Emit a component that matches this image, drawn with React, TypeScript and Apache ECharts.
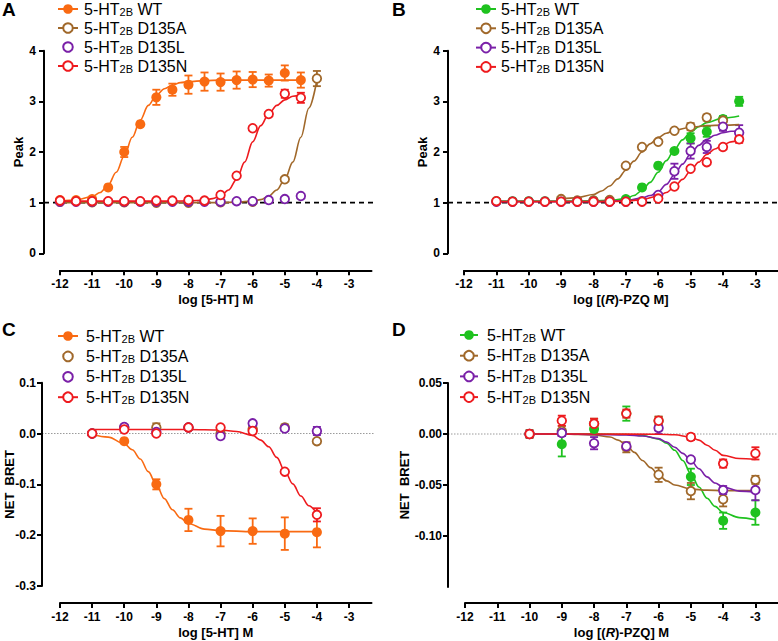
import React, { useEffect, useRef } from "react";
import * as echarts from "echarts";

const FONT = "'Liberation Sans', Arial, Helvetica, sans-serif";

const ORANGE = "#F96A12";
const GREEN = "#1FC21F";
const BROWN = "#A0682A";
const PURPLE = "#7A20A8";
const RED = "#EE1A1E";

const X_TICKS = [-12, -11, -10, -9, -8, -7, -6, -5, -4, -3];
const A_Y_TICKS = [0, 1, 2, 3, 4];
const C_Y_TICKS = [-0.3, -0.2, -0.1, 0, 0.1];
const D_Y_TICKS = [-0.1, -0.05, 0, 0.05];

// ---------- Panel A: Peak vs log [5-HT] ----------
const aX = [-12, -11.5, -11, -10.5, -10, -9.5, -9, -8.5, -8, -7.5, -7, -6.5, -6, -5.5, -5, -4.5];
const aWT = [1.05, 1.05, 1.07, 1.3, 2.0, 2.55, 3.08, 3.23, 3.33, 3.39, 3.38, 3.42, 3.43, 3.41, 3.56, 3.42];
const aWTErr = [0, 0, 0, 0, 0.1, 0, 0.15, 0.12, 0.18, 0.18, 0.17, 0.17, 0.15, 0.12, 0.15, 0.15];
const aAX = [-12, -11, -10, -9, -8, -7, -6, -5, -4];
const aA = [1.02, 1.01, 1.01, 1.0, 1.0, 1.01, 1.02, 1.46, 3.45];
const aAErr = [0, 0, 0, 0, 0, 0, 0, 0, 0.15];
const aL = [1.02, 1.02, 1.02, 1.02, 1.02, 1.02, 1.02, 1.02, 1.02, 1.02, 1.02, 1.03, 1.03, 1.05, 1.07, 1.13];
const aN = [1.04, 1.03, 1.03, 1.03, 1.03, 1.03, 1.04, 1.04, 1.05, 1.04, 1.15, 1.53, 2.47, 2.75, 3.15, 3.07];
const aNErr = [0, 0, 0, 0, 0, 0, 0, 0, 0, 0, 0, 0, 0, 0, 0.08, 0.1];
const aWTcX = [-12, -11.5, -11, -10.75, -10.5, -10.25, -10, -9.75, -9.5, -9.25, -9, -8.75, -8.5, -8.25, -8, -7.5, -7, -6, -5, -4.5];
const aWTcY = [1.03, 1.05, 1.12, 1.2, 1.35, 1.6, 1.92, 2.29, 2.63, 2.92, 3.12, 3.25, 3.32, 3.37, 3.39, 3.41, 3.42, 3.42, 3.42, 3.42];
const aAcX = [-12, -10, -8, -7, -6.5, -6, -5.75, -5.5, -5.25, -5, -4.75, -4.5, -4.25, -4];
const aAcY = [1.0, 1.0, 1.0, 1.0, 1.01, 1.03, 1.06, 1.13, 1.25, 1.46, 1.8, 2.29, 2.87, 3.42];
const aNcX = [-12, -11, -10, -9, -8.5, -8, -7.5, -7.25, -7, -6.75, -6.5, -6.25, -6, -5.75, -5.5, -5.25, -5, -4.75, -4.5];
const aNcY = [1.03, 1.03, 1.03, 1.03, 1.03, 1.035, 1.05, 1.08, 1.13, 1.25, 1.46, 1.8, 2.2, 2.52, 2.75, 2.92, 3.03, 3.1, 3.13];

// ---------- Panel B: Peak vs log [(R)-PZQ] ----------
const bX = [-11, -10.5, -10, -9.5, -9, -8.5, -8, -7.5, -7, -6.5, -6, -5.5, -5, -4.5, -4, -3.5];
const bWT = [1.03, 1.03, 1.03, 1.03, 1.04, 1.03, 1.04, 1.04, 1.07, 1.3, 1.73, 2.02, 2.27, 2.4, 2.65, 3.0];
const bWTErr = [0, 0, 0, 0, 0, 0, 0, 0, 0, 0, 0.03, 0, 0.1, 0.1, 0.06, 0.09];
const bAX = [-9, -8.5, -8, -7.5, -7, -6.5, -6, -5.5, -5, -4.5, -4];
const bA = [1.07, 1.04, 1.04, 1.05, 1.73, 2.1, 2.2, 2.42, 2.5, 2.68, 2.62];
const bAErr = [0, 0, 0, 0, 0, 0, 0, 0, 0.07, 0.06, 0.05];
const bL = [1.02, 1.02, 1.02, 1.02, 1.02, 1.02, 1.02, 1.02, 1.02, 1.03, 1.15, 1.62, 2.02, 2.1, 2.5, 2.38];
const bLErr = [0, 0, 0, 0, 0, 0, 0, 0, 0, 0, 0.03, 0.15, 0.15, 0.12, 0.08, 0.15];
const bN = [1.03, 1.02, 1.02, 1.02, 1.02, 1.02, 1.02, 1.02, 1.02, 1.02, 1.08, 1.32, 1.67, 1.8, 2.1, 2.25];
const bNErr = [0, 0, 0, 0, 0, 0, 0, 0, 0, 0, 0, 0, 0, 0, 0.02, 0.07];
const bWTcX = [-11, -10, -9, -8, -7.5, -7, -6.75, -6.5, -6.25, -6, -5.75, -5.5, -5.25, -5, -4.75, -4.5, -4, -3.5];
const bWTcY = [1.03, 1.03, 1.03, 1.035, 1.045, 1.08, 1.14, 1.24, 1.4, 1.6, 1.83, 2.05, 2.24, 2.39, 2.5, 2.58, 2.67, 2.71];
const bAcX = [-9, -8.5, -8, -7.75, -7.5, -7.25, -7, -6.75, -6.5, -6.25, -6, -5.75, -5.5, -5, -4.5, -4, -3.5];
const bAcY = [1.07, 1.1, 1.16, 1.23, 1.33, 1.47, 1.64, 1.82, 2.0, 2.16, 2.29, 2.37, 2.43, 2.49, 2.52, 2.53, 2.54];
const bLcX = [-11, -10, -9, -8, -7, -6.5, -6.25, -6, -5.75, -5.5, -5.25, -5, -4.75, -4.5, -4.25, -4, -3.75, -3.5];
const bLcY = [1.02, 1.02, 1.02, 1.02, 1.04, 1.09, 1.14, 1.22, 1.36, 1.55, 1.76, 1.96, 2.13, 2.25, 2.33, 2.38, 2.41, 2.42];
const bNcX = [-11, -10, -9, -8, -7, -6.5, -6, -5.75, -5.5, -5.25, -5, -4.75, -4.5, -4.25, -4, -3.75, -3.5];
const bNcY = [1.02, 1.02, 1.02, 1.02, 1.03, 1.06, 1.13, 1.2, 1.31, 1.46, 1.63, 1.8, 1.95, 2.06, 2.14, 2.2, 2.23];

// ---------- Panel C: NET BRET vs log [5-HT] ----------
const cX = [-11, -10, -9, -8, -7, -6, -5, -4];
const cWT = [0, -0.015, -0.1, -0.17, -0.192, -0.192, -0.197, -0.194];
const cWTErr = [0, 0.003, 0.01, 0.022, 0.03, 0.025, 0.032, 0.03];
const cA = [0.0, 0.012, 0.012, 0.012, 0.0, 0.009, 0.012, -0.015];
const cAErr = [0, 0.006, 0.008, 0.003, 0.003, 0.005, 0.006, 0.003];
const cL = [0.0, 0.013, 0.003, 0.012, -0.005, 0.02, 0.01, 0.005];
const cLErr = [0, 0.004, 0.003, 0, 0.004, 0.003, 0.005, 0.008];
const cN = [0.0, 0.008, 0.0, 0.012, 0.012, 0.005, -0.075, -0.16];
const cNErr = [0, 0, 0.003, 0.002, 0.002, 0.003, 0.003, 0.013];
const cWTcX = [-11, -10.5, -10, -9.75, -9.5, -9.25, -9, -8.75, -8.5, -8.25, -8, -7.5, -7, -6, -5, -4];
const cWTcY = [-0.002, -0.007, -0.02, -0.032, -0.05, -0.075, -0.101, -0.128, -0.15, -0.166, -0.177, -0.188, -0.191, -0.193, -0.193, -0.193];
const cNcX = [-11, -10, -9, -8, -7, -6.5, -6, -5.75, -5.5, -5.25, -5, -4.75, -4.5, -4.25, -4];
const cNcY = [0.008, 0.008, 0.008, 0.008, 0.007, 0.004, -0.004, -0.013, -0.026, -0.047, -0.074, -0.099, -0.123, -0.142, -0.158];

// ---------- Panel D: NET BRET vs log [(R)-PZQ] ----------
const dX = [-10, -9, -8, -7, -6, -5, -4, -3];
const dWT = [0, -0.01, 0.005, 0.02, 0.013, -0.042, -0.085, -0.077];
const dWTErr = [0.002, 0.012, 0.003, 0.007, 0.004, 0.008, 0.008, 0.012];
const dA = [0, 0.003, 0.01, -0.013, -0.04, -0.056, -0.064, -0.045];
const dAErr = [0.004, 0.005, 0.005, 0.005, 0.007, 0.008, 0.007, 0.004];
const dL = [0, 0.001, -0.009, -0.012, 0.006, -0.025, -0.055, -0.055];
const dLErr = [0.003, 0.003, 0.006, 0.003, 0.006, 0.002, 0.004, 0.01];
const dN = [0, 0.013, 0.01, 0.02, 0.013, -0.003, -0.029, -0.019];
const dNErr = [0.002, 0.005, 0.005, 0.004, 0.004, 0.003, 0.004, 0.006];
const dWTcX = [-10, -9, -8, -7, -6.5, -6, -5.75, -5.5, -5.25, -5, -4.75, -4.5, -4.25, -4, -3.5, -3];
const dWTcY = [0, 0, 0, -0.0005, -0.0015, -0.005, -0.009, -0.016, -0.026, -0.039, -0.052, -0.063, -0.071, -0.077, -0.082, -0.084];
const dAcX = [-10, -9, -8.5, -8, -7.5, -7.25, -7, -6.75, -6.5, -6.25, -6, -5.75, -5.5, -5, -4.5, -4, -3];
const dAcY = [0, 0, -0.0005, -0.001, -0.003, -0.006, -0.011, -0.018, -0.026, -0.033, -0.04, -0.046, -0.05, -0.054, -0.055, -0.0555, -0.0555];
const dLcX = [-10, -9, -8, -7, -6.5, -6, -5.75, -5.5, -5.25, -5, -4.75, -4.5, -4.25, -4, -3.5, -3];
const dLcY = [0, 0, -0.0005, -0.001, -0.002, -0.0045, -0.008, -0.013, -0.019, -0.026, -0.034, -0.042, -0.048, -0.052, -0.056, -0.057];
const dNcX = [-10, -8, -6, -5.5, -5, -4.75, -4.5, -4.25, -4, -3.5, -3];
const dNcY = [0, 0, -0.0003, -0.0008, -0.003, -0.006, -0.011, -0.016, -0.021, -0.024, -0.025];

const GROUP_LABEL: Record<string, string> = {
  WT: "{t|5-HT}{s|2B}{t| WT}",
  A: "{t|5-HT}{s|2B}{t| D135A}",
  L: "{t|5-HT}{s|2B}{t| D135L}",
  N: "{t|5-HT}{s|2B}{t| D135N}",
};

type Group = {
  key: string;
  color: string;
  filled: boolean;
  px: number[];
  py: number[];
  pe?: number[];
  cx?: number[];
  cy?: number[];
};

function buildPanel(p: string, gi: number, groups: Group[]) {
  const series: any[] = [];
  const legendNames: string[] = [];
  groups.forEach((g) => {
    const item = g.filled
      ? { color: g.color }
      : { color: "#fff", borderColor: g.color, borderWidth: 1.8 };
    if (g.cx && g.cy) {
      const cy = g.cy;
      series.push({
        type: "line",
        name: `${p}_${g.key}_c`,
        xAxisIndex: gi,
        yAxisIndex: gi,
        data: g.cx.map((x, i) => [x, cy[i]]),
        smooth: 0.35,
        smoothMonotone: "x",
        showSymbol: false,
        symbol: "circle",
        symbolSize: 9,
        itemStyle: item,
        lineStyle: { color: g.color, width: 1.6 },
        silent: true,
        clip: false,
      });
      legendNames.push(`${p}_${g.key}_c`);
    }
    if (g.pe) {
      const pe = g.pe;
      const errData = g.px
        .map((x, i) => [x, g.py[i] - pe[i], g.py[i] + pe[i], pe[i]])
        .filter((d) => d[3] > 0);
      const color = g.color;
      series.push({
        type: "custom",
        name: `${p}_${g.key}_e`,
        xAxisIndex: gi,
        yAxisIndex: gi,
        data: errData,
        encode: { x: 0, y: [1, 2] },
        silent: true,
        clip: false,
        renderItem: (params: any, api: any) => {
          const x = api.value(0);
          const lo = api.coord([x, api.value(1)]);
          const hi = api.coord([x, api.value(2)]);
          const w = 4;
          const st = { stroke: color, lineWidth: 1.8 };
          return {
            type: "group",
            children: [
              { type: "line", shape: { x1: lo[0], y1: lo[1], x2: hi[0], y2: hi[1] }, style: st },
              { type: "line", shape: { x1: hi[0] - w, y1: hi[1], x2: hi[0] + w, y2: hi[1] }, style: st },
              { type: "line", shape: { x1: lo[0] - w, y1: lo[1], x2: lo[0] + w, y2: lo[1] }, style: st },
            ],
          };
        },
      });
    }
    series.push({
      type: "line",
      name: `${p}_${g.key}_p`,
      xAxisIndex: gi,
      yAxisIndex: gi,
      data: g.px.map((x, i) => [x, g.py[i]]),
      showSymbol: true,
      symbol: "circle",
      symbolSize: g.filled ? 10 : 8.6,
      itemStyle: item,
      lineStyle: { width: 0, opacity: 0 },
      silent: true,
      clip: false,
    });
    if (!(g.cx && g.cy)) legendNames.push(`${p}_${g.key}_p`);
  });
  return { series, legendNames };
}

const labelFmt = (name: string) => GROUP_LABEL[name.split("_")[1]] || name;

function legend(names: string[], left: number, top: number, gap: number, itemWidth: number, padLeft: number) {
  return {
    data: names,
    orient: "vertical",
    left,
    top,
    padding: 0,
    itemGap: gap,
    itemWidth,
    itemHeight: 12,
    selectedMode: false,
    formatter: labelFmt,
    textStyle: {
      fontFamily: FONT,
      fontSize: 16,
      color: "#000",
      lineHeight: 16,
      padding: [0, 0, 0, padLeft],
      rich: {
        t: { fontFamily: FONT, fontSize: 16, lineHeight: 16, color: "#000" },
        s: { fontFamily: FONT, fontSize: 11, lineHeight: 8, padding: [8, 0, 0, 0], verticalAlign: "bottom", color: "#000" },
      },
    },
  };
}

const AXIS_LINE = { show: true, onZero: false, lineStyle: { color: "#000", width: 2 } };
const AXIS_TICK = (vals: number[]) => ({ show: true, length: 5, lineStyle: { color: "#000", width: 2 }, customValues: vals });
const BOLD = { fontFamily: FONT, fontWeight: "bold", color: "#000" };

function xAxis(gi: number, name: string, offset: number) {
  return {
    type: "value",
    gridIndex: gi,
    min: -12,
    max: -2.3,
    interval: 1,
    offset,
    axisLine: AXIS_LINE,
    axisTick: AXIS_TICK(X_TICKS),
    axisLabel: { ...BOLD, fontSize: 12, margin: 8, customValues: X_TICKS },
    splitLine: { show: false },
    name,
    nameLocation: "middle",
    nameGap: 23,
    nameMoveOverlap: false,
    nameTextStyle: {
      ...BOLD,
      fontSize: 13,
      rich: { i: { ...BOLD, fontSize: 13, fontStyle: "italic" } },
    },
  };
}

function yAxis(gi: number, min: number, max: number, interval: number, ticks: number[], dec: number, name: string, offset: number, nameGap: number, margin: number) {
  return {
    type: "value",
    gridIndex: gi,
    min,
    max,
    interval,
    offset,
    axisLine: AXIS_LINE,
    axisTick: AXIS_TICK(ticks),
    axisLabel: {
      ...BOLD,
      fontSize: 12,
      margin,
      customValues: ticks,
      formatter: (v: number) => (Math.abs(v) < 1e-9 ? (0).toFixed(dec) : v.toFixed(dec)),
    },
    splitLine: { show: false },
    name,
    nameLocation: "middle",
    nameGap,
    nameMoveOverlap: false,
    nameTextStyle: { ...BOLD, fontSize: 13 },
  };
}

const OFF = [
  { y: 16, x: 17 },
  { y: 16, x: 17 },
  { y: 18, x: 17 },
  { y: 17, x: 16 },
];

export default function App() {
  const ref = useRef<HTMLDivElement>(null);
  useEffect(() => {
    if (!ref.current) return;
    const chart = echarts.init(ref.current, undefined, { renderer: "svg" });

    const pA = buildPanel("A", 0, [
      { key: "WT", color: ORANGE, filled: true, px: aX, py: aWT, pe: aWTErr, cx: aWTcX, cy: aWTcY },
      { key: "A", color: BROWN, filled: false, px: aAX, py: aA, pe: aAErr, cx: aAcX, cy: aAcY },
      { key: "L", color: PURPLE, filled: false, px: aX, py: aL },
      { key: "N", color: RED, filled: false, px: aX, py: aN, pe: aNErr, cx: aNcX, cy: aNcY },
    ]);
    const pB = buildPanel("B", 1, [
      { key: "WT", color: GREEN, filled: true, px: bX, py: bWT, pe: bWTErr, cx: bWTcX, cy: bWTcY },
      { key: "A", color: BROWN, filled: false, px: bAX, py: bA, pe: bAErr, cx: bAcX, cy: bAcY },
      { key: "L", color: PURPLE, filled: false, px: bX, py: bL, pe: bLErr, cx: bLcX, cy: bLcY },
      { key: "N", color: RED, filled: false, px: bX, py: bN, pe: bNErr, cx: bNcX, cy: bNcY },
    ]);
    const pC = buildPanel("C", 2, [
      { key: "WT", color: ORANGE, filled: true, px: cX, py: cWT, pe: cWTErr, cx: cWTcX, cy: cWTcY },
      { key: "A", color: BROWN, filled: false, px: cX, py: cA, pe: cAErr },
      { key: "L", color: PURPLE, filled: false, px: cX, py: cL, pe: cLErr },
      { key: "N", color: RED, filled: false, px: cX, py: cN, pe: cNErr, cx: cNcX, cy: cNcY },
    ]);
    const pD = buildPanel("D", 3, [
      { key: "WT", color: GREEN, filled: true, px: dX, py: dWT, pe: dWTErr, cx: dWTcX, cy: dWTcY },
      { key: "A", color: BROWN, filled: false, px: dX, py: dA, pe: dAErr, cx: dAcX, cy: dAcY },
      { key: "L", color: PURPLE, filled: false, px: dX, py: dL, pe: dLErr, cx: dLcX, cy: dLcY },
      { key: "N", color: RED, filled: false, px: dX, py: dN, pe: dNErr, cx: dNcX, cy: dNcY },
    ]);

    const option: any = {
      animation: false,
      textStyle: { fontFamily: FONT },
      grid: [
        { left: 60, top: 50.7, width: 311.5, height: 202.6, outerBoundsMode: "none", containLabel: false },
        { left: 464, top: 50.7, width: 314, height: 202.6, outerBoundsMode: "none", containLabel: false },
        { left: 60, top: 382.7, width: 311.5, height: 203.3, outerBoundsMode: "none", containLabel: false },
        { left: 465, top: 383, width: 313, height: 204, outerBoundsMode: "none", containLabel: false },
      ],
      xAxis: [
        xAxis(0, "log [5-HT] M", OFF[0].x),
        xAxis(1, "log [({i|R})-PZQ M]", OFF[1].x),
        xAxis(2, "log [5-HT] M", OFF[2].x),
        xAxis(3, "log [({i|R})-PZQ] M", OFF[3].x),
      ],
      yAxis: [
        yAxis(0, 0, 4, 1, A_Y_TICKS, 0, "Peak", OFF[0].y, 19, 8),
        yAxis(1, 0, 4, 1, A_Y_TICKS, 0, "Peak", OFF[1].y, 19, 8),
        yAxis(2, -0.3, 0.1, 0.1, C_Y_TICKS, 1, "NET  BRET", OFF[2].y, 26, 6),
        yAxis(3, -0.15, 0.05, 0.05, D_Y_TICKS, 2, "NET  BRET", OFF[3].y, 37, 6),
      ],
      legend: [
        legend(pA.legendNames, 57, -2, 0, 20, 1),
        legend(pB.legendNames, 475, -2, 0.3, 20, 0),
        legend(pC.legendNames, 57, 325, 1.4, 20, 3),
        legend(pD.legendNames, 459, 324, 1.7, 18, 4),
      ],
      series: [...pA.series, ...pB.series, ...pC.series, ...pD.series],
    };
    chart.setOption(option);

    const px = (gi: number, x: number, y: number) => chart.convertToPixel({ gridIndex: gi } as any, [x, y]) as number[];
    const refLine = (gi: number, yv: number, dashed: boolean, extraRight: number) => {
      const l = px(gi, -12, yv);
      const r = px(gi, -2.3, yv);
      return {
        type: "line",
        z: 0,
        silent: true,
        shape: { x1: l[0] - OFF[gi].y, y1: l[1], x2: r[0] + extraRight, y2: r[1] },
        style: dashed
          ? { stroke: "#000", lineWidth: 1.6, lineDash: [5, 4] }
          : { stroke: "#9a9a9a", lineWidth: 1, lineDash: [1.5, 1.5] },
      };
    };
    const letter = (t: string, x: number, y: number) => ({
      type: "text",
      x,
      y,
      silent: true,
      style: { text: t, fontSize: 19, fontWeight: "bold", fontFamily: FONT, fill: "#000", textVerticalAlign: "top" },
    });
    chart.setOption({
      graphic: [
        refLine(0, 1, true, 5),
        refLine(1, 1, true, 0),
        refLine(2, 0, false, 2),
        refLine(3, 0, false, 0),
        letter("A", 2, 0),
        letter("B", 392, 0),
        letter("C", 2, 320),
        letter("D", 392, 320),
      ],
    });

    return () => chart.dispose();
  }, []);
  return (
    <div style={{ position: "absolute", left: 0, top: 0 }}>
      <div ref={ref} style={{ width: 778, height: 641 }} />
    </div>
  );
}
